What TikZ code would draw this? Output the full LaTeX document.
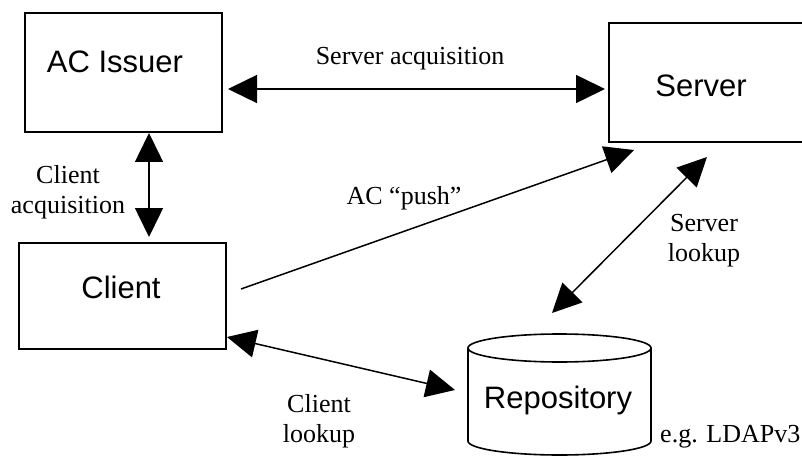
\documentclass[tikz,border=0pt]{standalone}
\usepackage{fontspec}
\setmainfont{Liberation Serif}
\newfontfamily\boxfont{Liberation Sans}
\usetikzlibrary{arrows.meta,calc}
\begin{document}
\begin{tikzpicture}[x=1pt,y=-1pt,
  box/.style={draw,line width=1.6pt,inner sep=0pt,outer sep=0pt},
  boxtext/.style={font=\boxfont\fontsize{31}{36}\selectfont,anchor=base,inner sep=0pt},
  lbl/.style={font=\fontsize{26}{30}\selectfont,align=center,inner sep=0pt},
  link/.style={line width=1.5pt,{Triangle[length=29pt,width=28pt]}-{Triangle[length=29pt,width=28pt]}},
  push/.style={line width=1.5pt,-{Triangle[length=29pt,width=28pt]}}
]
\useasboundingbox (0,0) rectangle (802,457);
\clip (0,0) rectangle (802,457);

% boxes
\node[box,minimum width=197pt,minimum height=119pt] (issuer) at (123.5,72.5) {};
\node[box,minimum width=211pt,minimum height=119pt] (server) at (714.5,82.5) {};
\node[box,minimum width=207pt,minimum height=106pt] (client) at (122.5,296) {};

% repository drum
\node[minimum width=183pt,minimum height=121pt,inner sep=0pt,outer sep=0pt] (repo) at (559.5,394.5) {};
\draw[line width=1.6pt] (repo.north west) ++(0,14) -- ++(0,93)
  arc[start angle=180,end angle=360,x radius=91.5pt,y radius=14pt] -- ++(0,-93);
\draw[line width=1.6pt] ($(repo.north)+(0,14)$) ellipse [x radius=91.5pt,y radius=14pt];

% box captions
\node[boxtext] (issuertext) at (115,73) {AC Issuer};
\node[boxtext] (servertext) at (701,97) {Server};
\node[boxtext] (clienttext) at (121,298) {Client};
\node[boxtext] (repotext) at (558,408) {Repository};
\node[lbl,anchor=base west] (ldap) at (660,442) {e.g. LDAPv3};

% connectors
\draw[link] ($(issuer.north east)+(6,76)$) -- ($(server.north west)+(-4,66)$);
\draw[link] ($(issuer.south)+(25.5,1)$) -- ($(client.north)+(26.5,-6)$);
\draw[push] ($(client.east)+(15,-7)$) -- ($(server.south west)+(25,8)$);
\draw[link] ($(server.south west)+(98,15)$) -- ($(repo.north)+(-7.5,-21)$);
\draw[link] ($(client.south east)+(1,-12)$) -- ($(repo.west)+(-13,-4.5)$);

% connector labels
\node[lbl,anchor=base] (lsrvacq) at (410,65) {Server acquisition};
\node[lbl] (lcliacq) at (68,192) {Client\\acquisition};
\node[lbl,anchor=base] (lpush) at (404,204) {AC “push”};
\node[lbl] (lsrvlook) at (704,241) {Server\\lookup};
\node[lbl] (lclilook) at (319,421) {Client\\lookup};
\end{tikzpicture}
\end{document}
